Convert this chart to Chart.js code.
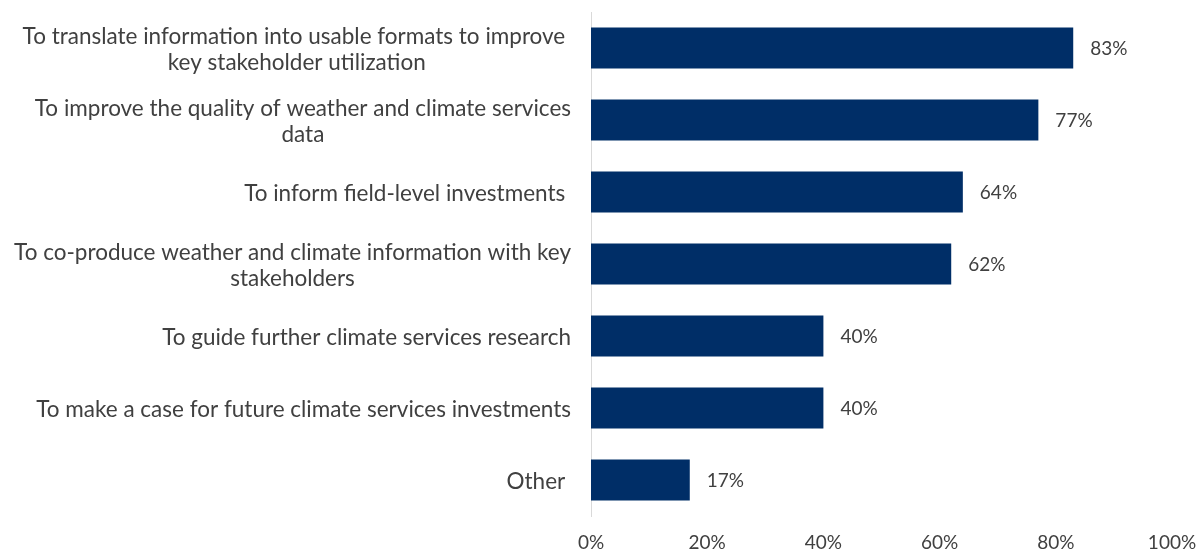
<!DOCTYPE html>
<html>
<head>
<meta charset="utf-8">
<script src="https://cdn.jsdelivr.net/npm/chart.js@4/dist/chart.umd.min.js"></script>
<style>
  html, body { margin: 0; padding: 0; background: #fff; }
  #wrap { width: 1203px; height: 554px; }
</style>
</head>
<body>
<div id="wrap"><canvas id="purposeChart" width="1203" height="554"></canvas></div>
<script>
// categories (each entry is a list of wrapped lines)
const purposes = [
    ['To translate information into usable formats to improve ', 'key stakeholder utilization'],
    ['To improve the quality of weather and climate services', 'data'],
    ['To inform field-level investments '],
    ['To co-produce weather and climate information with key', 'stakeholders'],
    ['To guide further climate services research'],
    ['To make a case for future climate services investments'],
    ['Other ']
];
const shares = [83, 77, 64, 62, 40, 40, 17];
const xTicks = [0, 20, 40, 60, 80, 100];

const TEXT = '#404040';
const BAR = '#002E67';
const FONT = 'Lato, "Open Sans", sans-serif';

// draws the wrapped category names, centred on each other and right aligned to the axis
const categoryLabels = {
    id: 'categoryLabels',
    afterDraw(chart) {
        const ctx = chart.ctx;
        const yScale = chart.scales.y;
        const rightEdge = yScale.left - 20;
        const lineH = 26;
        ctx.save();
        ctx.font = '22.5px ' + FONT;
        ctx.fillStyle = TEXT;
        ctx.textAlign = 'center';
        ctx.textBaseline = 'middle';
        purposes.forEach((lines, i) => {
            const y = yScale.getPixelForValue(i);
            const widest = Math.max(...lines.map(l => ctx.measureText(l).width));
            const cx = rightEdge - widest / 2;
            const y0 = y - (lines.length - 1) * lineH / 2 + 2;
            lines.forEach((l, j) => ctx.fillText(l, cx, y0 + j * lineH));
        });
        ctx.restore();
    }
};

// value labels just past the end of each bar
const valueLabels = {
    id: 'valueLabels',
    afterDatasetsDraw(chart) {
        const ctx = chart.ctx;
        const meta = chart.getDatasetMeta(0);
        ctx.save();
        ctx.font = '19px ' + FONT;
        ctx.fillStyle = TEXT;
        ctx.textAlign = 'left';
        ctx.textBaseline = 'middle';
        meta.data.forEach((bar, i) => {
            ctx.fillText(shares[i] + '%', bar.x + 17, bar.y + 1);
        });
        ctx.restore();
    }
};

const ctx = document.getElementById('purposeChart').getContext('2d');
new Chart(ctx, {
    type: 'bar',
    data: {
        labels: purposes.map(p => p.join(' ')),
        datasets: [{
            data: shares,
            backgroundColor: BAR,
            borderWidth: 0,
            barPercentage: 0.57,
            categoryPercentage: 1
        }]
    },
    options: {
        indexAxis: 'y',
        responsive: false,
        animation: false,
        layout: { padding: { left: 591, right: 0, top: 12, bottom: 0 } },
        plugins: {
            legend: { display: false },
            tooltip: { enabled: false }
        },
        scales: {
            x: {
                min: 0,
                max: 100,
                afterBuildTicks: axis => { axis.ticks = xTicks.map(v => ({ value: v })); },
                afterFit: axis => {
                    axis.height = 38;
                    axis.paddingRight = 31;
                },
                grid: { display: false, drawTicks: false },
                border: { display: false },
                ticks: {
                    color: TEXT,
                    font: { family: FONT, size: 19 },
                    padding: 15,
                    callback: v => v + '%'
                }
            },
            y: {
                grid: { display: false, drawTicks: false },
                border: { display: true, color: '#D9D9D9', width: 1 },
                ticks: { display: false }
            }
        }
    },
    plugins: [categoryLabels, valueLabels]
});
</script>
</body>
</html>
